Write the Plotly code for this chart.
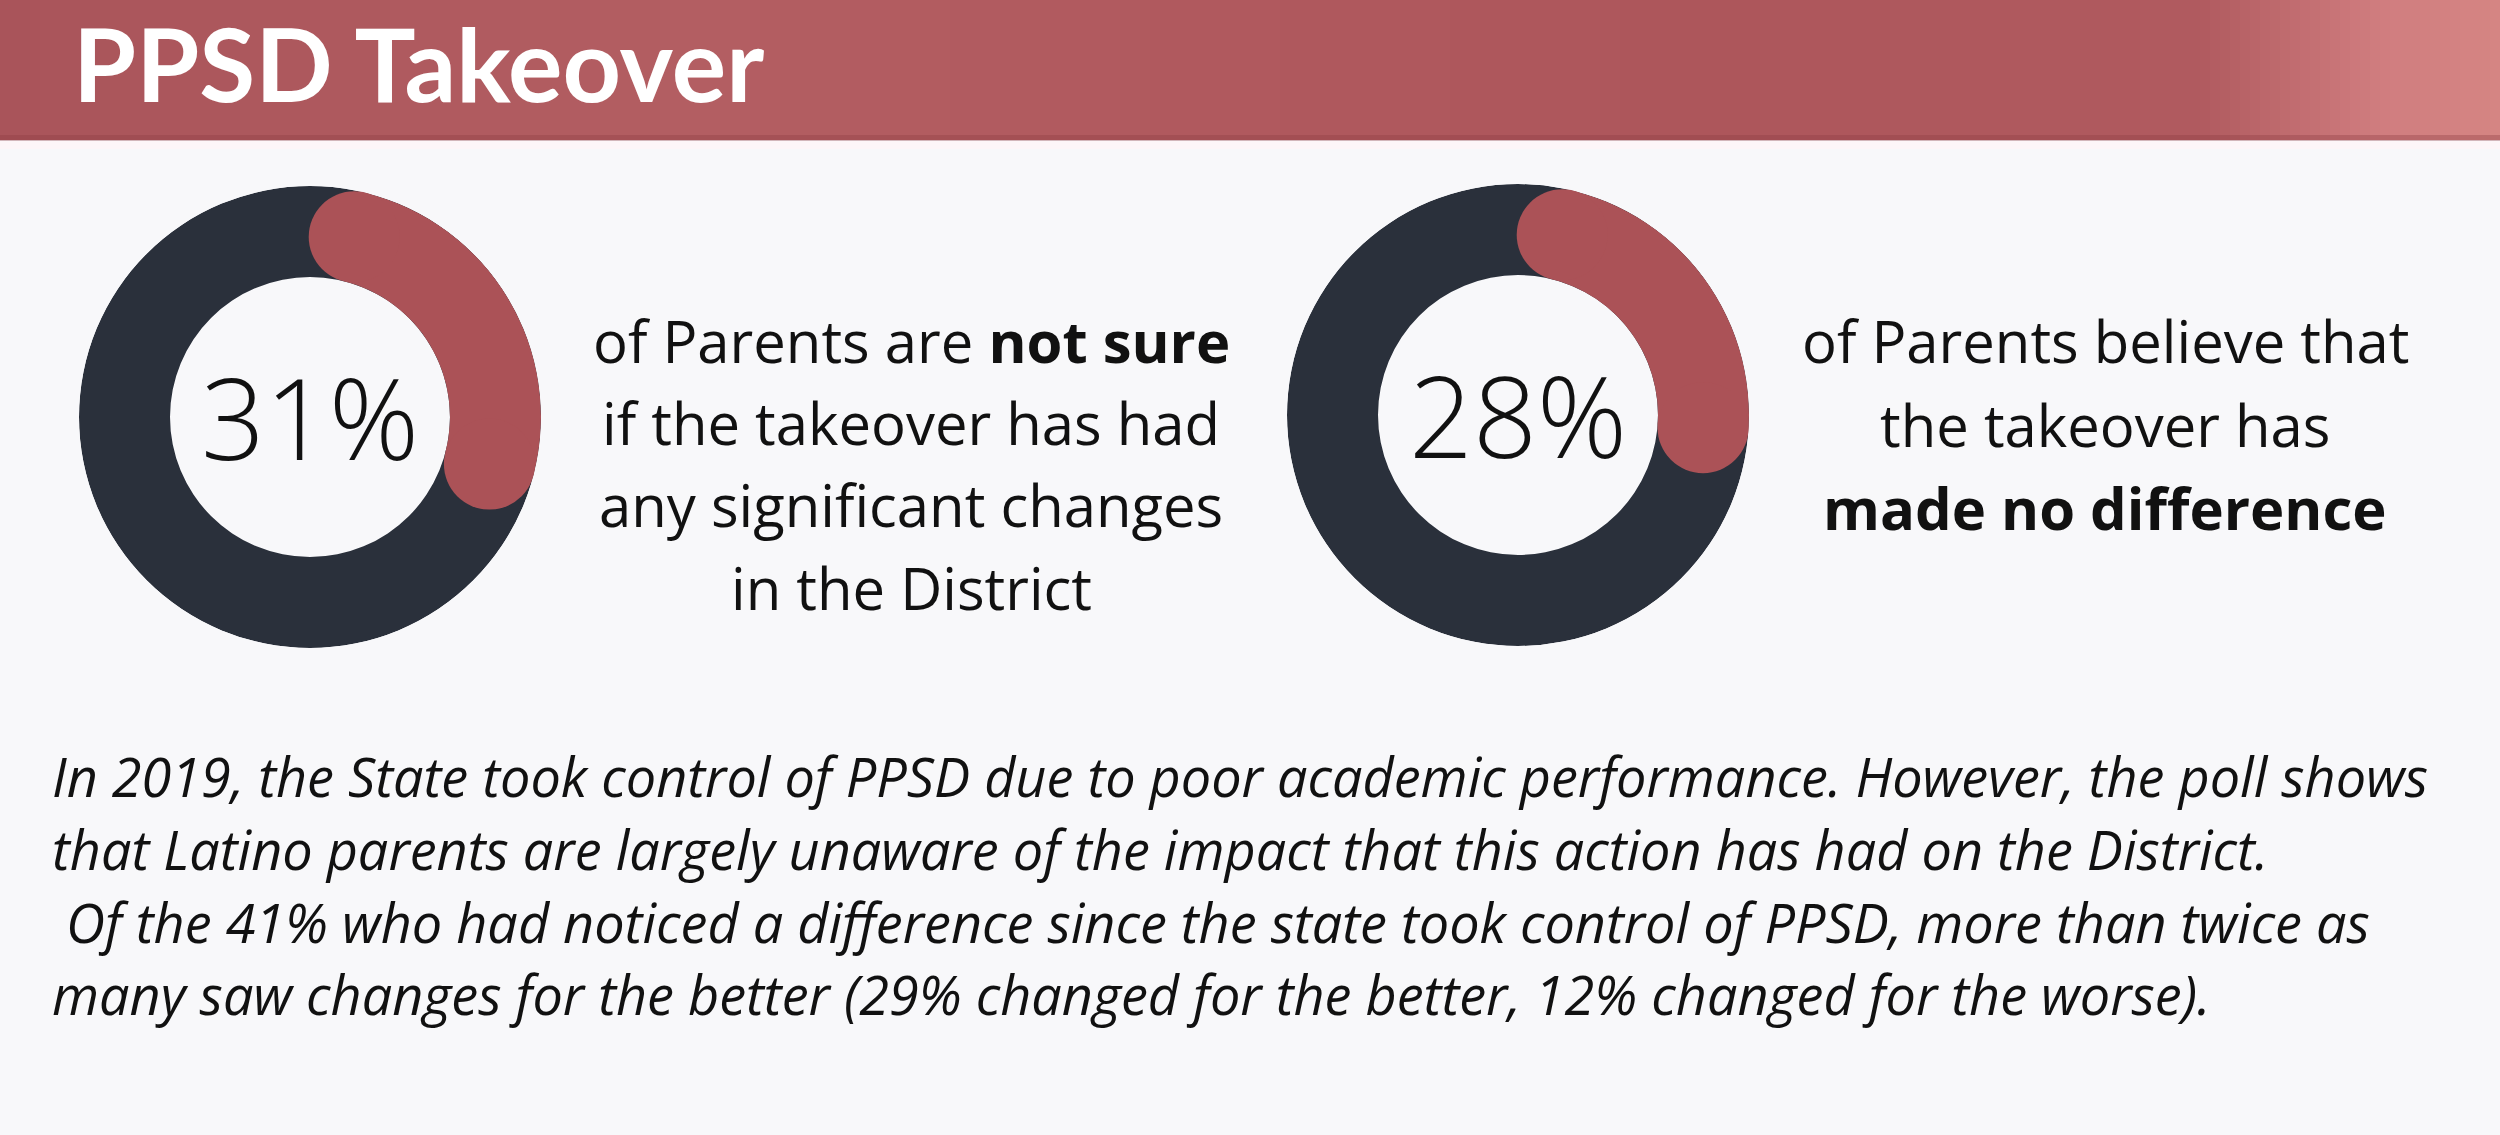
import math
import plotly.graph_objects as go

# ---------------- data ----------------
title_text = "PPSD Takeover"
pct_values = [31, 28]
pct_labels = ["31%", "28%"]
caption_lines = [
    ["of Parents are <b>not sure</b>", "if the takeover has had",
     "any significant changes", "in the District"],
    ["of Parents believe that", "the takeover has", "<b>made no difference</b>"],
]
paragraph_lines = [
    "In 2019, the State took control of PPSD due to poor academic performance. However, the poll shows",
    "that Latino parents are largely unaware of the impact that this action has had on the District.",
    "Of the 41% who had noticed a difference since the state took control of PPSD, more than twice as",
    "many saw changes for the better (29% changed for the better, 12% changed for the worse).",
]

# ---------------- styling / layout ----------------
W, H = 2500, 1135
BG = "#f8f8fa"
DARK = "#2a303b"
RED = "#ab5257"
TXT = "#111111"

HOLE = 0.606
RING = 1 - HOLE
R_PX = 231
donut_centers = [(310, 417), (1518, 415)]
caption_centers_x = [911, 2105]
caption_baselines = [[358, 440, 522, 605], [358, 442, 525]]
para_baselines = [792, 865, 938, 1010]
para_x = [50, 50, 64, 50]

CAP_SIZE = 58
PARA_SIZE = 54


def px_x(x):
    return x / W


def px_y(y):
    return 1 - y / H


fig = go.Figure()

# cap geometry (round ends of the highlighted arc)
mid_px = (HOLE + RING / 2) * R_PX
cap_deg = math.degrees(math.atan((RING * R_PX / 2) / mid_px))

for i, (pct, (cx, cy)) in enumerate(zip(pct_values, donut_centers)):
    pname = "polar" if i == 0 else f"polar{i+1}"
    sub = pname
    # full dark ring
    fig.add_trace(go.Barpolar(
        r=[RING], base=[HOLE], theta=[180], width=[360],
        marker=dict(color=DARK, line=dict(width=0)),
        subplot=sub, showlegend=False, hoverinfo="skip"))
    # red arc body
    start = cap_deg
    end = pct * 3.6 - cap_deg / 2
    fig.add_trace(go.Barpolar(
        r=[RING], base=[HOLE], theta=[(start + end) / 2], width=[end - start],
        marker=dict(color=RED, line=dict(width=0)),
        subplot=sub, showlegend=False, hoverinfo="skip"))
    # round caps
    fig.add_trace(go.Scatterpolar(
        r=[HOLE + RING / 2, HOLE + RING / 2], theta=[start, end],
        mode="markers",
        marker=dict(size=RING * R_PX, color=RED, line=dict(width=0)),
        subplot=sub, showlegend=False, hoverinfo="skip"))

    polar_cfg = dict(
        domain=dict(x=[px_x(cx - R_PX), px_x(cx + R_PX)],
                    y=[px_y(cy + R_PX), px_y(cy - R_PX)]),
        bgcolor="rgba(0,0,0,0)",
        bargap=0,
        radialaxis=dict(range=[0, 1], visible=False, showgrid=False),
        angularaxis=dict(rotation=90, direction="clockwise", visible=False,
                         showgrid=False),
    )
    fig.update_layout(**{pname: polar_cfg})

annotations = []
# percent labels
for lab, (cx, cy) in zip(pct_labels, donut_centers):
    annotations.append(dict(
        x=px_x(cx), y=px_y(cy), xref="paper", yref="paper",
        text=lab, showarrow=False, xanchor="center", yanchor="middle",
        font=dict(family="Open Sans", size=112, color=TXT, weight=300)))

# captions
for lines, cx, bases in zip(caption_lines, caption_centers_x, caption_baselines):
    for ln, b in zip(lines, bases):
        annotations.append(dict(
            x=px_x(cx), y=px_y(b - 0.30 * CAP_SIZE), xref="paper", yref="paper",
            text=ln, showarrow=False, xanchor="center", yanchor="middle",
            font=dict(family="Open Sans", size=CAP_SIZE, color=TXT)))

# paragraph
for ln, b, x in zip(paragraph_lines, para_baselines, para_x):
    annotations.append(dict(
        x=px_x(x), y=px_y(b - 0.30 * PARA_SIZE), xref="paper", yref="paper",
        text=ln, showarrow=False, xanchor="left", yanchor="middle",
        font=dict(family="Open Sans", size=PARA_SIZE, color=TXT, style="italic")))

# title
TITLE_SIZE = 102
annotations.append(dict(
    x=px_x(72), y=1, xref="paper", yref="paper",
    text=f"<b>{title_text}</b>", showarrow=False, xanchor="left", yanchor="top",
    borderpad=0,
    font=dict(family="Lato", size=TITLE_SIZE, color="white", weight=900)))

# header band with a faux gradient
shapes = []
stops = [(0, (169, 84, 90)), (700, (179, 94, 98)), (1200, (176, 89, 94)),
         (1700, (173, 86, 91)), (2200, (176, 90, 95)), (2380, (208, 125, 127)),
         (2500, (213, 133, 131))]
step = 10
for x0 in range(0, W, step):
    xm = x0 + step / 2
    for (a, ca), (b, cb) in zip(stops[:-1], stops[1:]):
        if a <= xm <= b:
            t = (xm - a) / (b - a)
            c = tuple(int(round(ca[k] + (cb[k] - ca[k]) * t)) for k in range(3))
            break
    shapes.append(dict(type="rect", xref="paper", yref="paper",
                       x0=px_x(x0), x1=px_x(x0 + step + 1), y0=px_y(140), y1=1,
                       fillcolor=f"rgb{c}", line=dict(width=0), layer="below"))
shapes.append(dict(type="rect", xref="paper", yref="paper",
                   x0=0, x1=1, y0=px_y(141), y1=px_y(135),
                   fillcolor="rgba(140,60,66,0.35)", line=dict(width=0), layer="below"))
shapes.append(dict(type="rect", xref="paper", yref="paper",
                   x0=0, x1=1, y0=px_y(149), y1=px_y(141),
                   fillcolor="#fdf6f8", line=dict(width=0), layer="below"))

fig.update_layout(
    width=W, height=H,
    margin=dict(l=0, r=0, t=0, b=0),
    paper_bgcolor=BG, plot_bgcolor=BG,
    showlegend=False,
    annotations=annotations,
    shapes=shapes,
    xaxis=dict(visible=False), yaxis=dict(visible=False),
)

fig.write_html(
    "out.html",
    config={"displayModeBar": False},
    post_script="document.body.style.margin='0';document.body.style.padding='0';"
                "document.body.style.overflow='hidden';"
                "document.documentElement.style.background='" + BG + "';",
)
